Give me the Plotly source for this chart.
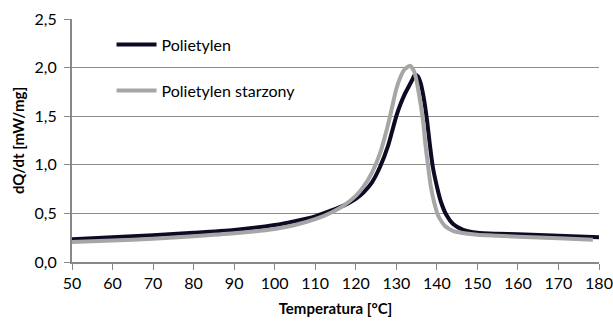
import plotly.graph_objects as go

# Polietylen (black)
temp_pe = [50, 60, 70, 80, 90, 100, 105, 110, 114, 117, 120, 122, 124, 126, 128, 129, 130, 131, 132, 133, 134, 134.6, 135.3, 136, 136.8, 137.6, 138.3, 139, 140, 141, 142.4, 144, 146.5, 150, 155, 160, 170, 180]
dq_pe = [0.235, 0.255, 0.275, 0.30, 0.33, 0.38, 0.42, 0.47, 0.53, 0.58, 0.65, 0.72, 0.82, 0.98, 1.20, 1.35, 1.50, 1.62, 1.72, 1.80, 1.88, 1.93, 1.91, 1.84, 1.68, 1.45, 1.20, 0.98, 0.78, 0.62, 0.48, 0.39, 0.33, 0.30, 0.29, 0.285, 0.27, 0.255]

# Polietylen starzony (gray)
temp_ps = [50, 60, 70, 80, 90, 100, 105, 110, 114, 117, 120, 122, 124, 126, 128, 129, 130, 131, 132, 133.4, 134.5, 135.5, 136.6, 137.2, 137.8, 138.5, 139.3, 140.3, 142, 144, 146, 150, 155, 160, 170, 178.5]
dq_ps = [0.205, 0.22, 0.24, 0.265, 0.295, 0.34, 0.38, 0.44, 0.51, 0.58, 0.68, 0.78, 0.92, 1.12, 1.42, 1.60, 1.78, 1.90, 1.98, 2.02, 1.95, 1.75, 1.45, 1.20, 1.00, 0.78, 0.62, 0.48, 0.37, 0.32, 0.30, 0.28, 0.27, 0.26, 0.245, 0.23]

x_ticks = [50, 60, 70, 80, 90, 100, 110, 120, 130, 140, 150, 160, 170, 180]
y_ticks = [0.0, 0.5, 1.0, 1.5, 2.0, 2.5]
y_tick_labels = ["0,0", "0,5", "1,0", "1,5", "2,0", "2,5"]

FONT = "Lato"

fig = go.Figure()
fig.add_trace(go.Scatter(x=temp_pe, y=dq_pe, mode="lines", name="Polietylen",
                         line=dict(color="#0b0b24", width=4, shape="spline", smoothing=0.6),
                         legend="legend", showlegend=True))
fig.add_trace(go.Scatter(x=temp_ps, y=dq_ps, mode="lines", name="Polietylen starzony",
                         line=dict(color="#a6a6a6", width=4, shape="spline", smoothing=0.6),
                         legend="legend2", showlegend=True))

leg_common = dict(bgcolor="rgba(0,0,0,0)", borderwidth=0,
                  font=dict(family=FONT, size=16, color="#000000"),
                  xanchor="left", yanchor="middle", itemwidth=40)

fig.update_layout(
    width=613, height=321,
    showlegend=True,
    margin=dict(l=72, r=14, t=19, b=59),
    paper_bgcolor="white", plot_bgcolor="white",
    font=dict(family=FONT, size=15, color="#000000"),
    legend=dict(x=0.075, y=0.895, **leg_common),
    legend2=dict(x=0.075, y=0.705, **leg_common),
    xaxis=dict(range=[50, 180], tickmode="array", tickvals=x_ticks, automargin=False,
               ticks="outside", ticklen=6, tickcolor="#888888", tickwidth=1,
               showline=True, linecolor="#888888", linewidth=2,
               showgrid=False, zeroline=False,
               tickfont=dict(family=FONT, size=16, color="#000000"),
               title=dict(text="<b>Temperatura [°C]</b>", font=dict(family=FONT, size=15), standoff=12)),
    yaxis=dict(range=[0, 2.5], tickmode="array", tickvals=y_ticks, ticktext=y_tick_labels, automargin=False,
               ticks="outside", ticklen=6, tickcolor="#888888", tickwidth=1,
               showline=True, linecolor="#888888", linewidth=2, ticklabelstandoff=4,
               showgrid=True, gridcolor="#8c8c8c", gridwidth=1, zeroline=False,
               tickfont=dict(family=FONT, size=16, color="#000000"),
               title=dict(text="<b>dQ/dt [mW/mg]</b>", font=dict(family=FONT, size=15), standoff=6)),
)

fig.write_html("out.html")
